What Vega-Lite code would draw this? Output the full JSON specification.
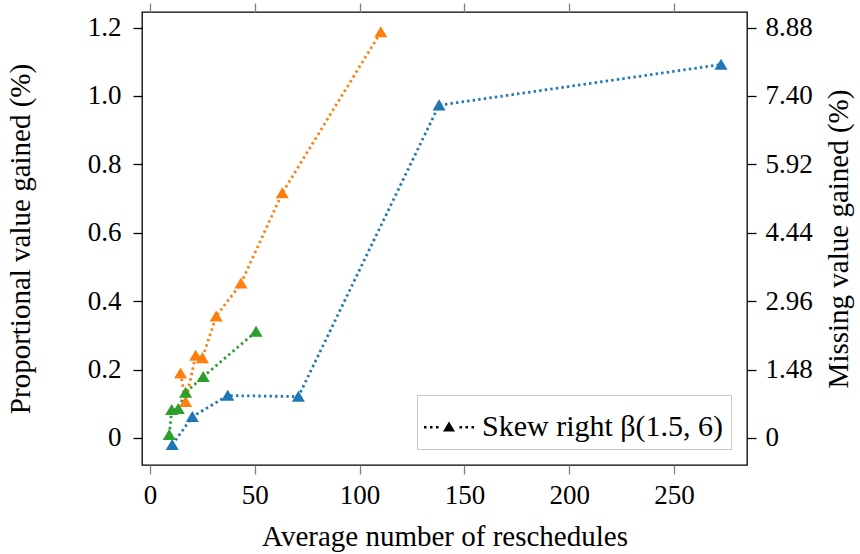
{
  "$schema": "https://vega.github.io/schema/vega-lite/v6.json",
  "width": 605,
  "height": 453,
  "autosize": "none",
  "padding": {"left": 142, "top": 12, "right": 113, "bottom": 89},
  "background": "white",
  "config": {
    "font": "Liberation Serif",
    "view": {"stroke": "black", "strokeWidth": 1.3},
    "axis": {
      "grid": false,
      "domain": false,
      "labelFont": "Liberation Serif",
      "titleFont": "Liberation Serif",
      "labelFontSize": 27,
      "titleFontSize": 29,
      "titleFontWeight": "normal",
      "labelColor": "black",
      "titleColor": "black",
      "tickColor": "black",
      "tickSize": 9,
      "tickWidth": 1.3
    },
    "legend": {
      "labelFont": "Liberation Serif",
      "labelFontSize": 30,
      "labelColor": "black",
      "labelLimit": 500
    }
  },
  "data": {
    "values": [
      {"series": "a", "x": 10.6, "y": -0.020},
      {"series": "a", "x": 20.2, "y": 0.062},
      {"series": "a", "x": 37.1, "y": 0.124},
      {"series": "a", "x": 70.8, "y": 0.121},
      {"series": "a", "x": 137.9, "y": 0.973},
      {"series": "a", "x": 272.4, "y": 1.092},
      {"series": "b", "x": 14.6, "y": 0.189},
      {"series": "b", "x": 17.0, "y": 0.106},
      {"series": "b", "x": 21.8, "y": 0.241},
      {"series": "b", "x": 25.0, "y": 0.234},
      {"series": "b", "x": 31.6, "y": 0.356},
      {"series": "b", "x": 43.4, "y": 0.452},
      {"series": "b", "x": 63.1, "y": 0.716},
      {"series": "b", "x": 110.1, "y": 1.187},
      {"series": "c", "x": 9.2, "y": 0.009},
      {"series": "c", "x": 10.35, "y": 0.082},
      {"series": "c", "x": 13.5, "y": 0.085},
      {"series": "c", "x": 17.0, "y": 0.133},
      {"series": "c", "x": 25.4, "y": 0.179},
      {"series": "c", "x": 50.6, "y": 0.311}
    ]
  },
  "layer": [
    {
      "layer": [
        {
          "mark": {"type": "line", "strokeDash": [2.4, 3.2], "strokeWidth": 2.8, "strokeCap": "butt"},
          "encoding": {
            "x": {"field": "x", "type": "quantitative", "scale": {"domain": [-3.8, 284.8], "nice": false, "zero": false},
              "axis": {"orient": "bottom", "values": [0, 50, 100, 150, 200, 250], "tickColor": "#808080", "labelPadding": 8, "titlePadding": 14, "title": "Average number of reschedules"}},
            "y": {"field": "y", "type": "quantitative", "scale": {"domain": [-0.079, 1.2456], "nice": false, "zero": false},
              "axis": {"orient": "left", "values": [0, 0.2, 0.4, 0.6, 0.8, 1.0, 1.2], "labelExpr": "datum.value == 0 ? '0' : format(datum.value, '.1f')", "labelPadding": 12, "titlePadding": 52, "title": "Proportional value gained (%)"}},
            "color": {"field": "series", "type": "nominal", "scale": {"domain": ["a", "b", "c"], "range": ["#1f77b4", "#ff7f0e", "#2ca02c"]}, "legend": null},
            "detail": {"field": "series"}
          }
        },
        {
          "mark": {"type": "point", "filled": true, "opacity": 1, "size": 190, "shape": "M0,-0.85L0.95,0.75L-0.95,0.75Z"},
          "encoding": {
            "x": {"field": "x", "type": "quantitative"},
            "y": {"field": "y", "type": "quantitative"},
            "color": {"field": "series", "type": "nominal", "legend": null}
          }
        },
        {
          "mark": {"type": "point", "opacity": 0, "filled": true, "color": "black"},
          "encoding": {
            "x": {"field": "x", "type": "quantitative"},
            "y": {"field": "y", "type": "quantitative"},
            "shape": {
              "datum": "Skew right β(1.5, 6)",
              "scale": {"range": ["M-1,-0.045h0.1v0.1h-0.1Z M-0.76,-0.045h0.1v0.1h-0.1Z M-0.52,-0.045h0.1v0.1h-0.1Z M0.42,-0.045h0.1v0.1h-0.1Z M0.66,-0.045h0.1v0.1h-0.1Z M0.9,-0.045h0.1v0.1h-0.1Z M0,-0.22L0.24,0.18L-0.24,0.18Z"]},
              "legend": {
                "title": null,
                "orient": "bottom-right",
                "offset": 16,
                "padding": 7,
                "strokeColor": "#c8c8c8",
                "fillColor": "white",
                "symbolSize": 2500,
                "symbolOpacity": 1,
                "symbolFillColor": "black",
                "symbolStrokeColor": "black",
                "symbolStrokeWidth": 0,
                "labelOffset": 8,
                "labelFont": "Liberation Serif",
                "labelFontSize": 30,
                "labelLimit": 500
              }
            }
          }
        }
      ]
    },
    {
      "mark": {"type": "point", "opacity": 0},
      "encoding": {
        "x": {"field": "x", "type": "quantitative",
          "axis": {"orient": "top", "values": [0, 50, 100, 150, 200, 250], "labels": false, "title": null, "tickColor": "#808080"}},
        "y": {"field": "y", "type": "quantitative", "scale": {"domain": [-0.5846, 9.2174], "nice": false, "zero": false},
          "axis": {"orient": "right", "values": [0, 1.48, 2.96, 4.44, 5.92, 7.4, 8.88], "labelExpr": "datum.value == 0 ? '0' : format(datum.value, '.2f')", "labelPadding": 9, "titlePadding": 12, "titleAngle": 270, "titleBaseline": "top", "title": "Missing value gained (%)"}}
      }
    }
  ],
  "resolve": {"scale": {"y": "independent"}, "axis": {"x": "independent", "y": "independent"}}
}
